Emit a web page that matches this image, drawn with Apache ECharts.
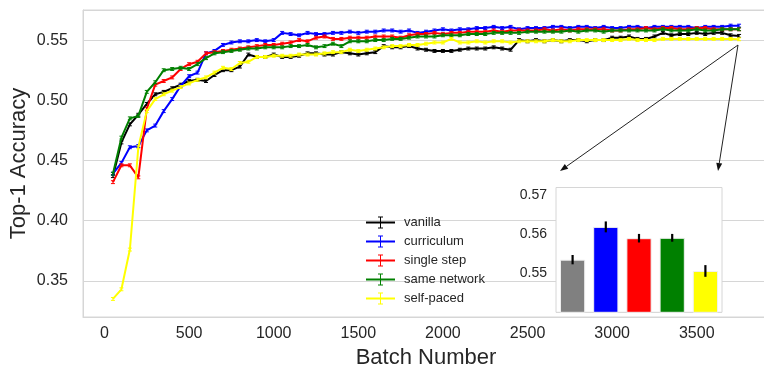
<!DOCTYPE html>
<html>
<head>
<meta charset="utf-8">
<script src="https://cdn.jsdelivr.net/npm/echarts@6/dist/echarts.min.js"></script>
<style>
  html, body { margin: 0; padding: 0; background: #fff; }
  #chart { width: 764px; height: 367px; }
</style>
</head>
<body>
<div id="chart"></div>
<script>
// batches 50, 100, ..., 3750
const batches = [];
for (let b = 50; b <= 3750; b += 50) batches.push(b);

const seriesNames = ["vanilla", "curriculum", "single step", "same network", "self-paced"];
const seriesColors = ["#000000", "#0000ff", "#ff0000", "#008000", "#ffff00"];

const vanilla = [
  0.437, 0.465, 0.480, 0.488, 0.497, 0.505, 0.507, 0.510, 0.513, 0.516,
  0.517, 0.516, 0.521, 0.525, 0.525, 0.528, 0.538, 0.536, 0.536, 0.538,
  0.536, 0.536, 0.537, 0.539, 0.539, 0.538, 0.538, 0.540, 0.539, 0.538,
  0.539, 0.540, 0.545, 0.544, 0.544, 0.545, 0.543, 0.542, 0.541, 0.541,
  0.541, 0.542, 0.543, 0.543, 0.543, 0.544, 0.543, 0.542, 0.550, 0.549,
  0.550, 0.549, 0.550, 0.549, 0.550, 0.550, 0.549, 0.550, 0.550, 0.552,
  0.552, 0.553, 0.551, 0.551, 0.553, 0.556, 0.554, 0.555, 0.555, 0.556,
  0.555, 0.556, 0.556, 0.554, 0.5535
];
const curriculum = [
  0.439, 0.448, 0.461, 0.462, 0.475, 0.479, 0.491, 0.501, 0.512, 0.520,
  0.523, 0.539, 0.541, 0.546, 0.548, 0.549, 0.549, 0.550, 0.549, 0.550,
  0.556, 0.555, 0.554, 0.556, 0.555, 0.555, 0.556, 0.556, 0.557, 0.556,
  0.557, 0.557, 0.558, 0.558, 0.557, 0.558, 0.556, 0.557, 0.558, 0.559,
  0.558, 0.559, 0.559, 0.560, 0.560, 0.561, 0.560, 0.561, 0.559, 0.560,
  0.560, 0.560, 0.561, 0.561, 0.560, 0.561, 0.561, 0.560, 0.561, 0.560,
  0.560, 0.561, 0.561, 0.560, 0.561, 0.561, 0.561, 0.561, 0.561, 0.560,
  0.561, 0.561, 0.561, 0.562, 0.562
];
const singleStep = [
  0.432, 0.446, 0.446, 0.436, 0.493, 0.513, 0.516, 0.519, 0.526, 0.530,
  0.532, 0.539, 0.540, 0.541, 0.542, 0.543, 0.544, 0.545, 0.546, 0.546,
  0.547, 0.548, 0.550, 0.549, 0.552, 0.553, 0.551, 0.551, 0.552, 0.552,
  0.552, 0.553, 0.553, 0.553, 0.552, 0.554, 0.555, 0.555, 0.556, 0.555,
  0.556, 0.556, 0.557, 0.557, 0.557, 0.558, 0.557, 0.558, 0.558, 0.558,
  0.558, 0.559, 0.558, 0.559, 0.558, 0.559, 0.559, 0.559, 0.559, 0.558,
  0.558, 0.559, 0.559, 0.560, 0.559, 0.560, 0.560, 0.559, 0.559, 0.560,
  0.560, 0.559, 0.559, 0.559, 0.559
];
const sameNetwork = [
  0.439, 0.469, 0.485, 0.487, 0.507, 0.515, 0.525, 0.526, 0.527, 0.526,
  0.530, 0.535, 0.539, 0.540, 0.541, 0.542, 0.543, 0.543, 0.544, 0.544,
  0.544, 0.545, 0.545, 0.546, 0.544, 0.545, 0.547, 0.545, 0.549, 0.549,
  0.549, 0.550, 0.550, 0.551, 0.551, 0.552, 0.553, 0.553, 0.553, 0.554,
  0.554, 0.554, 0.555, 0.555, 0.555, 0.556, 0.556, 0.556, 0.556, 0.557,
  0.557, 0.557, 0.557, 0.557, 0.558, 0.557, 0.558, 0.558, 0.557, 0.558,
  0.558, 0.558, 0.558, 0.558, 0.558, 0.559, 0.558, 0.558, 0.558, 0.559,
  0.558, 0.558, 0.559, 0.559, 0.559
];
const selfPaced = [
  0.335, 0.343, 0.376, 0.461, 0.491, 0.501, 0.505, 0.508, 0.511, 0.514,
  0.517, 0.519, 0.523, 0.527, 0.526, 0.531, 0.532, 0.536, 0.536, 0.537,
  0.537, 0.537, 0.538, 0.538, 0.538, 0.539, 0.540, 0.540, 0.542, 0.541,
  0.542, 0.543, 0.544, 0.545, 0.545, 0.546, 0.546, 0.547, 0.548, 0.548,
  0.551, 0.548, 0.548, 0.549, 0.548, 0.549, 0.549, 0.548, 0.549, 0.549,
  0.549, 0.549, 0.550, 0.549, 0.549, 0.550, 0.550, 0.550, 0.550, 0.550,
  0.550, 0.551, 0.550, 0.550, 0.550, 0.551, 0.551, 0.551, 0.551, 0.551,
  0.551, 0.551, 0.551, 0.551, 0.5507
];
const lineErr = [0.0012, 0.0012, 0.0012, 0.0012, 0.0012];

// inset: final accuracy per method
const finalAcc = [0.5535, 0.5619, 0.5590, 0.5591, 0.5506];
const finalErr = [0.0012, 0.0014, 0.0011, 0.0010, 0.0015];
const barColors = ["#808080", "#0000ff", "#ff0000", "#008000", "#ffff00"];

const allSeries = [vanilla, curriculum, singleStep, sameNetwork, selfPaced];

let chart = echarts.init(document.getElementById("chart"), null, { renderer: "canvas" });

const FONT = "Liberation Sans, Arial, sans-serif";
const GRIDC = "#d6d6d6";

// error bars for the lines (small vertical ticks with caps)
function lineErrRender(params, api) {
  const x = api.value(0), y = api.value(1), e = api.value(2);
  const lo = api.coord([x, y - e]);
  const hi = api.coord([x, y + e]);
  const c = api.visual("color");
  const style = { stroke: c, lineWidth: 1 };
  return {
    type: "group",
    children: [
      { type: "line", shape: { x1: lo[0], y1: lo[1], x2: hi[0], y2: hi[1] }, style: style },
      { type: "line", shape: { x1: lo[0] - 2, y1: lo[1], x2: lo[0] + 2, y2: lo[1] }, style: style },
      { type: "line", shape: { x1: hi[0] - 2, y1: hi[1], x2: hi[0] + 2, y2: hi[1] }, style: style }
    ]
  };
}

let series = [];
allSeries.forEach((vals, i) => {
  series.push({
    name: seriesNames[i],
    type: "line",
    xAxisIndex: 0, yAxisIndex: 0,
    data: batches.map((b, k) => [b, vals[k]]),
    symbol: "none",
    lineStyle: { width: 2, color: seriesColors[i] },
    itemStyle: { color: seriesColors[i] },
    z: 2 + i,
    animation: false
  });
  series.push({
    name: seriesNames[i] + "-err",
    type: "custom",
    xAxisIndex: 0, yAxisIndex: 0,
    data: batches.map((b, k) => [b, vals[k], lineErr[i]]),
    renderItem: lineErrRender,
    itemStyle: { color: seriesColors[i] },
    z: 2 + i,
    silent: true,
    animation: false
  });
});

// inset bars
series.push({
  type: "bar",
  xAxisIndex: 1, yAxisIndex: 1,
  data: finalAcc.map((v, i) => ({ value: v, itemStyle: { color: barColors[i] } })),
  barCategoryGap: "24%",
  itemStyle: { borderColor: "#f0f0f0", borderWidth: 1 },
  z: 10,
  animation: false
});
series.push({
  type: "custom",
  xAxisIndex: 1, yAxisIndex: 1,
  data: finalAcc.map((v, i) => [i, v, finalErr[i]]),
  renderItem: function (params, api) {
    const x = api.value(0), y = api.value(1), e = api.value(2);
    const lo = api.coord([x, y - e]);
    const hi = api.coord([x, y + e]);
    return { type: "line", shape: { x1: lo[0], y1: lo[1], x2: hi[0], y2: hi[1] }, style: { stroke: "#000", lineWidth: 2.2 } };
  },
  z: 11,
  silent: true,
  animation: false
});

// arrows pointing from the end of the curves to the inset
function arrow(x1, y1, x2, y2) {
  const dx = x2 - x1, dy = y2 - y1;
  const len = Math.sqrt(dx * dx + dy * dy);
  const ux = dx / len, uy = dy / len;
  const hl = 8, hw = 3;
  const bx = x2 - ux * hl, by = y2 - uy * hl;
  return [
    { type: "line", shape: { x1: x1, y1: y1, x2: bx, y2: by }, style: { stroke: "#222", lineWidth: 1 }, z: 20 },
    { type: "polygon", shape: { points: [[x2, y2], [bx - uy * hw, by + ux * hw], [bx + uy * hw, by - ux * hw]] }, style: { fill: "#111" }, z: 20 }
  ];
}

let option = {
  backgroundColor: "#ffffff",
  animation: false,
  textStyle: { fontFamily: FONT },
  grid: [
    { left: 83, top: 10, right: -5, bottom: 50, show: true, borderColor: GRIDC, borderWidth: 1,
      containLabel: false, outerBoundsMode: "none" },
    { left: 556, top: 187.5, width: 166, height: 124.8, show: true, borderColor: GRIDC, borderWidth: 1,
      backgroundColor: "#ffffff", z: 9, containLabel: false, outerBoundsMode: "none" }
  ],
  legend: {
    data: seriesNames,
    orient: "vertical",
    left: 366,
    top: 216,
    padding: 0,
    itemWidth: 29,
    itemHeight: 12,
    itemGap: 6,
    icon: "path://M0,5h29v2h-29z M14,0h1v12h-1z M12,0h5v1h-5z M12,11h5v1h-5z",
    textStyle: { fontFamily: FONT, fontSize: 13, color: "#262626", padding: [0, 0, 0, 4], lineHeight: 13 },
    selectedMode: false
  },
  xAxis: [
    {
      type: "value", gridIndex: 0,
      min: -127, max: 3927,
      splitNumber: 8,
      name: "Batch Number", nameLocation: "middle", nameGap: 29,
      nameTextStyle: { fontFamily: FONT, fontSize: 22, color: "#262626" },
      axisLine: { show: true, onZero: false, lineStyle: { color: GRIDC } },
      axisTick: { show: false },
      splitLine: { show: false },
      axisLabel: {
        fontFamily: FONT, fontSize: 16, color: "#262626", margin: 9,
        showMinLabel: false, showMaxLabel: false,
        formatter: v => String(Math.round(v))
      }
    },
    {
      type: "category", gridIndex: 1,
      data: seriesNames,
      axisLine: { show: false }, axisTick: { show: false }, axisLabel: { show: false }
    }
  ],
  yAxis: [
    {
      type: "value", gridIndex: 0,
      min: 0.32, max: 0.575,
      splitNumber: 5,
      name: "Top-1 Accuracy", nameLocation: "middle", nameGap: 53,
      nameMoveOverlap: false,
      nameTextStyle: { fontFamily: FONT, fontSize: 22, color: "#262626" },
      axisLine: { show: true, onZero: false, lineStyle: { color: GRIDC } },
      axisTick: { show: false },
      splitLine: { show: true, lineStyle: { color: GRIDC, width: 1.2 } },
      axisLabel: {
        fontFamily: FONT, fontSize: 16, color: "#262626", margin: 15,
        showMinLabel: false, showMaxLabel: false,
        formatter: v => v.toFixed(2)
      }
    },
    {
      type: "value", gridIndex: 1,
      min: 0.54, max: 0.572, interval: 0.01,
      axisLine: { show: false }, axisTick: { show: false },
      splitLine: { show: true, lineStyle: { color: GRIDC, width: 1.2 } },
      axisLabel: {
        fontFamily: FONT, fontSize: 14, color: "#262626", margin: 9,
        showMinLabel: false, showMaxLabel: false,
        formatter: v => v.toFixed(2)
      }
    }
  ],
  graphic: [].concat(arrow(738, 45, 560, 171), arrow(738, 45, 718, 171)),
  series: series
};

chart.setOption(option);
</script>
</body>
</html>
